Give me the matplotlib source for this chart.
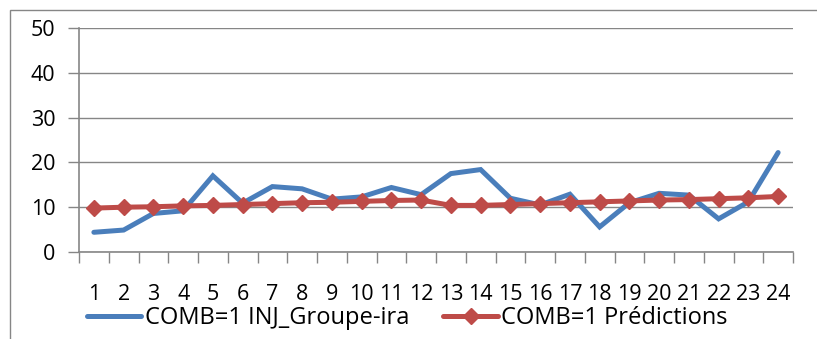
import matplotlib
matplotlib.use("Agg")
import matplotlib.pyplot as plt
from matplotlib.patches import Rectangle

plt.rcParams['font.family'] = ['Open Sans', 'DejaVu Sans']

# données
periodes = list(range(1, 25))
inj_groupe = [4.4, 4.9, 8.6, 9.2, 17.0, 10.9, 14.6, 14.1, 11.8, 12.3, 14.4, 12.8,
              17.5, 18.4, 12.0, 10.5, 12.9, 5.6, 11.0, 13.1, 12.7, 7.4, 11.2, 22.2]
predictions = [9.8, 10.0, 10.1, 10.3, 10.4, 10.6, 10.8, 11.0, 11.1, 11.3, 11.5, 11.6,
               10.4, 10.4, 10.6, 10.8, 11.0, 11.2, 11.4, 11.6, 11.7, 11.9, 12.1, 12.4]
etiquettes = [str(p) for p in periodes]

bleu = '#4A7EBB'
rouge = '#BE4B48'
gris = '#868686'
taille = 15.5

fig = plt.figure(figsize=(8.17, 3.39), dpi=100)
ax = fig.add_axes([79 / 817, 1 - 252 / 339, 714 / 817, 224 / 339])

# cadre extérieur
fig.patches.append(Rectangle((10 / 817, -0.1), 1.0, 1 - 10 / 339 + 0.1,
                             transform=fig.transFigure, fill=False,
                             edgecolor=gris, linewidth=1))

ax.plot(periodes, inj_groupe, color=bleu, linewidth=3.6,
        solid_capstyle='round', solid_joinstyle='miter',
        label='COMB=1 INJ_Groupe-ira', zorder=3)
ax.plot(periodes, predictions, color=rouge, linewidth=3.6, marker='D',
        markersize=8.5, markeredgecolor=rouge, solid_capstyle='round',
        label='COMB=1 Prédictions', zorder=4)

ax.set_xlim(0.5, 24.5)
ax.set_ylim(0, 50)
ax.set_yticks(range(0, 51, 10))
ax.yaxis.grid(True, color=gris, linewidth=1)
ax.set_axisbelow(True)

# ticks mineurs entre les catégories, étiquettes au centre
ax.set_xticks(periodes)
ax.set_xticklabels(etiquettes)
ax.set_xticks([p + 0.5 for p in range(0, 25)], minor=True)
ax.tick_params(axis='x', which='major', length=0, pad=23, labelsize=taille)
ax.tick_params(axis='x', which='minor', length=8, width=1, color=gris)
ax.tick_params(axis='y', length=8, width=1, color=gris, pad=9, labelsize=taille)

for s in ['top', 'right']:
    ax.spines[s].set_visible(False)
for s in ['left', 'bottom']:
    ax.spines[s].set_color(gris)
    ax.spines[s].set_linewidth(1.2)

leg = ax.legend(loc='center left', bbox_to_anchor=(87 / 817, 1 - 318 / 339),
                bbox_transform=fig.transFigure, ncol=2, frameon=False,
                fontsize=17, handlelength=2.3, handletextpad=0.15,
                columnspacing=1.45, borderpad=0, borderaxespad=0)

fig.savefig('out.png', dpi=100)
